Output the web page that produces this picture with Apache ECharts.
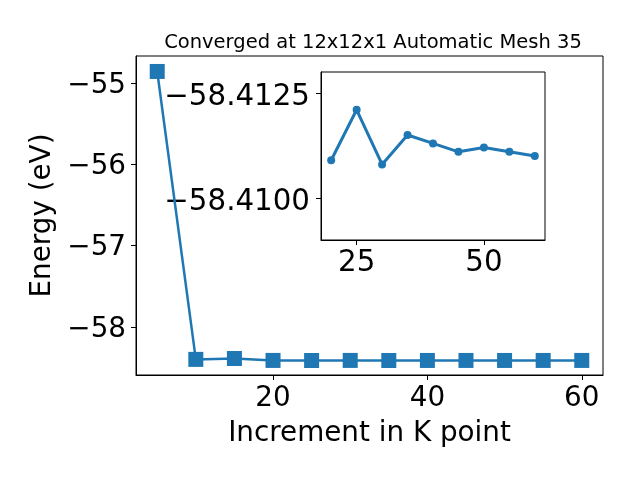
<!DOCTYPE html>
<html>
<head>
<meta charset="utf-8">
<script src="https://cdn.jsdelivr.net/npm/echarts@6/dist/echarts.min.js"></script>
<style>html,body{margin:0;padding:0;background:#fff;}#c{width:640px;height:480px;}</style>
</head>
<body>
<div id="c"></div>
<script>
// Data
const kPoints = [5, 10, 15, 20, 25, 30, 35, 40, 45, 50, 55, 60];
const energies = [-54.86, -58.398, -58.387, -58.4109, -58.4121, -58.4108, -58.4115, -58.4113, -58.4111, -58.4112, -58.4111, -58.4110];
const insetKPoints = [20, 25, 30, 35, 40, 45, 50, 55, 60];
const insetEnergies = [-58.4109, -58.4121, -58.4108, -58.4115, -58.4113, -58.4111, -58.4112, -58.4111, -58.4110];
const mainXTicks = [20, 40, 60];
const mainYTicks = [-58, -57, -56, -55];
const insetXTicks = [25, 50];
const insetYTicks = [-58.4125, -58.41];
const titleText = 'Converged at 12x12x1 Automatic Mesh 35';

const FONT = 'DejaVu Sans';
const COLOR = '#1f77b4';
const minus = s => String(s).replace('-', '\u2212');

const axisCommon = {
  axisLine: {show: true, onZero: false, lineStyle: {color: '#000', width: 1}},
  splitLine: {show: false},
};

const chart = echarts.init(document.getElementById('c'), null, {renderer: 'canvas'});
chart.setOption({
  animation: false,
  backgroundColor: '#fff',
  title: {
    text: titleText,
    left: 368, top: 28, textAlign: 'center',
    textStyle: {fontFamily: FONT, fontSize: 19.5, fontWeight: 'normal', color: '#000'}
  },
  grid: [
    {left: 136, top: 56, width: 467, height: 319, show: true, borderColor: '#000', borderWidth: 1, backgroundColor: 'transparent'},
    {left: 321, top: 72, width: 224, height: 168, show: true, borderColor: '#000', borderWidth: 1, backgroundColor: '#fff'}
  ],
  xAxis: [
    Object.assign({}, axisCommon, {
      type: 'value', gridIndex: 0, min: 2.25, max: 62.75,
      name: 'Increment in K point', nameLocation: 'middle', nameGap: 45,
      nameTextStyle: {fontFamily: FONT, fontSize: 27.8, color: '#000'},
      axisTick: {show: true, inside: false, length: 5, lineStyle: {color: '#000'}, customValues: mainXTicks},
      axisLabel: {show: true, margin: 10, fontFamily: FONT, fontSize: 27.8, color: '#000', customValues: mainXTicks, formatter: v => minus(v)}
    }),
    Object.assign({}, axisCommon, {
      type: 'value', gridIndex: 1, min: 18, max: 62,
      axisTick: {show: true, inside: false, length: 5, lineStyle: {color: '#000'}, customValues: insetXTicks},
      axisLabel: {show: true, margin: 9, fontFamily: FONT, fontSize: 29.3, color: '#000', customValues: insetXTicks, formatter: v => minus(v)}
    })
  ],
  yAxis: [
    Object.assign({}, axisCommon, {
      type: 'value', gridIndex: 0, min: -58.59, max: -54.67,
      name: 'Energy (eV)', nameLocation: 'middle', nameGap: 78, nameRotate: 90,
      nameTextStyle: {fontFamily: FONT, fontSize: 27.8, color: '#000'},
      axisTick: {show: true, inside: false, length: 5, lineStyle: {color: '#000'}, customValues: mainYTicks},
      axisLabel: {show: true, margin: 10, color: '#000', customValues: mainYTicks,
        formatter: v => '{t|' + minus(Math.round(v)) + '}',
        rich: {t: {fontFamily: FONT, fontSize: 27.8, color: '#000', padding: [5, 0, 0, 0]}}}
    }),
    Object.assign({}, axisCommon, {
      type: 'value', gridIndex: 1, min: -58.413, max: -58.409, inverse: true,
      axisTick: {show: true, inside: false, length: 5, lineStyle: {color: '#000'}, customValues: insetYTicks},
      axisLabel: {show: true, margin: 11, color: '#000', customValues: insetYTicks,
        formatter: v => '{t|' + minus(Number(v).toFixed(4)) + '}',
        rich: {t: {fontFamily: FONT, fontSize: 29.3, color: '#000', padding: [8, 0, 0, 0]}}}
    })
  ],
  series: [
    {
      type: 'line', xAxisIndex: 0, yAxisIndex: 0,
      data: kPoints.map((k, i) => [k, energies[i]]),
      symbol: 'rect', symbolSize: 15, showAllSymbol: true,
      lineStyle: {color: COLOR, width: 2.5},
      itemStyle: {color: COLOR, borderWidth: 0},
      z: 2
    },
    {
      type: 'line', xAxisIndex: 1, yAxisIndex: 1,
      data: insetKPoints.map((k, i) => [k, insetEnergies[i]]),
      symbol: 'circle', symbolSize: 8, showAllSymbol: true,
      lineStyle: {color: COLOR, width: 3},
      itemStyle: {color: COLOR, borderWidth: 0},
      z: 5
    }
  ]
});
</script>
</body>
</html>
